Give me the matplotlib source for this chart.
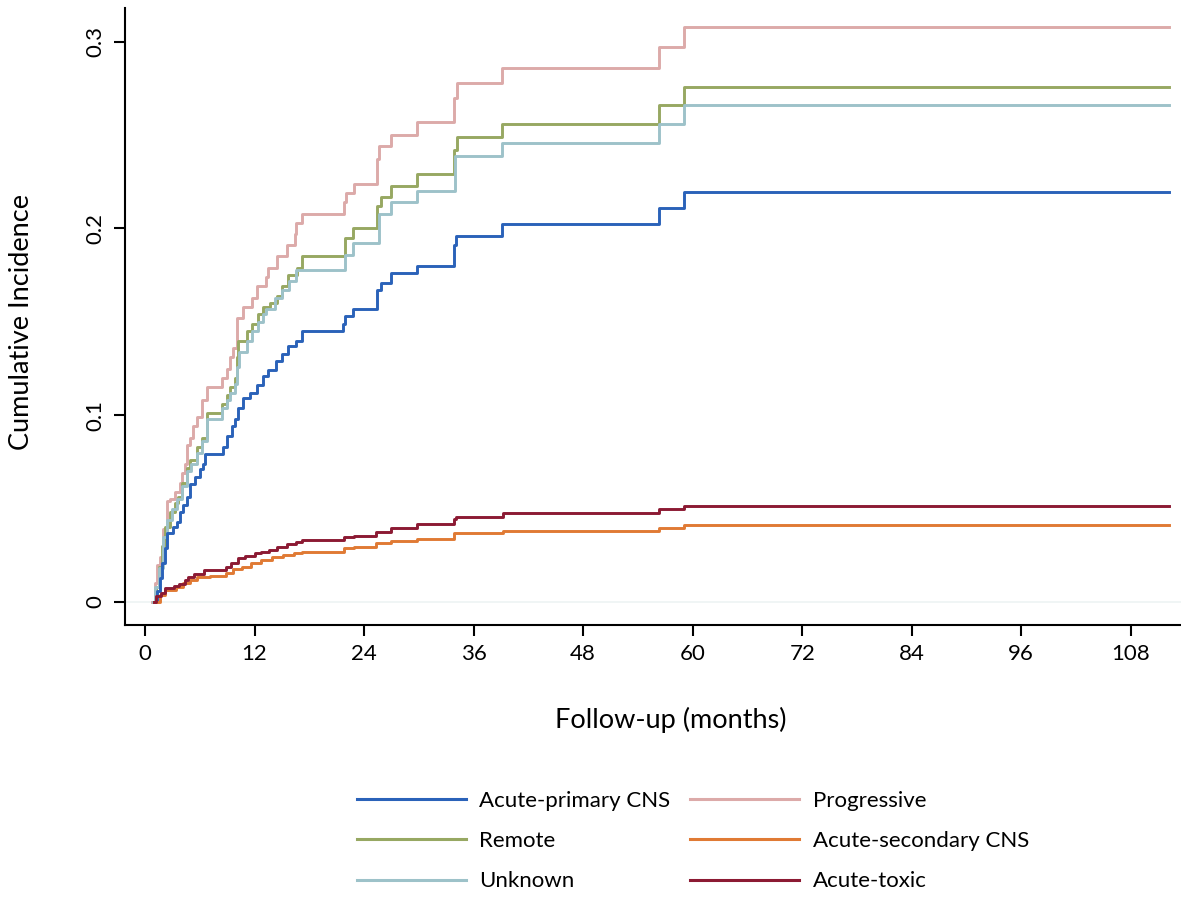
import numpy as np
import matplotlib
matplotlib.use("Agg")
from matplotlib import pyplot as plt

plt.rcParams['font.family'] = ['Lato', 'DejaVu Sans']

# --- dados (tempo de inicio de cada degrau, incidencia acumulada) ---
t_end = 112.2

primary_t = [1.0, 1.3, 1.6, 1.9, 2.2, 2.4, 3.1, 3.5, 3.8, 4.2, 4.6, 4.9, 5.5, 6.0, 6.4, 6.6,
             8.55, 9.0, 9.5, 9.9, 10.2, 10.75, 11.5, 12.3, 12.9, 13.5, 14.3, 15.0, 15.7, 16.5,
             17.2, 21.7, 21.9, 22.8, 25.4, 25.8, 26.9, 29.8, 33.8, 34.1, 39.1, 56.3, 59.0]
primary_y = [0.0, 0.006, 0.013, 0.021, 0.029, 0.037, 0.040, 0.043, 0.048, 0.052, 0.056, 0.063, 0.067, 0.071, 0.074, 0.079,
             0.083, 0.089, 0.094, 0.098, 0.104, 0.109, 0.112, 0.116, 0.121, 0.124, 0.129, 0.133, 0.137, 0.140,
             0.145, 0.149, 0.153, 0.157, 0.167, 0.171, 0.176, 0.180, 0.191, 0.196, 0.2025, 0.211, 0.2196]

progressive_t = [0.8, 1.1, 1.3, 1.6, 2.0, 2.4, 2.7, 3.3, 3.8, 4.1, 4.4, 4.6, 4.9, 5.3, 5.7, 6.25, 6.8,
                 8.45, 9.0, 9.3, 9.65, 10.1, 10.75, 11.7, 12.3, 13.2, 13.5, 14.5, 15.6, 16.4, 16.5,
                 17.2, 21.8, 22.0, 22.9, 25.4, 25.6, 26.9, 29.8, 33.8, 34.2, 39.1, 56.3, 59.0]
progressive_y = [0.0, 0.010, 0.020, 0.024, 0.039, 0.054, 0.055, 0.059, 0.064, 0.069, 0.074, 0.084, 0.088, 0.094, 0.099, 0.108, 0.115,
                 0.120, 0.125, 0.131, 0.136, 0.152, 0.158, 0.163, 0.169, 0.174, 0.179, 0.185, 0.191, 0.197, 0.203,
                 0.208, 0.214, 0.219, 0.224, 0.237, 0.244, 0.250, 0.257, 0.270, 0.278, 0.286, 0.297, 0.308]

remote_t = [0.9, 1.2, 1.5, 1.9, 2.2, 2.7, 3.3, 3.6, 4.1, 4.6, 4.9, 5.7, 6.25, 6.8,
            8.45, 9.0, 9.3, 9.9, 10.1, 10.2, 11.2, 11.7, 12.4, 12.9, 13.7, 14.5, 15.0, 15.7, 16.7,
            17.2, 21.9, 22.8, 25.4, 25.8, 26.9, 29.8, 33.8, 34.2, 39.1, 56.3, 59.0]
remote_y = [0.0, 0.008, 0.019, 0.030, 0.040, 0.048, 0.053, 0.056, 0.064, 0.072, 0.076, 0.083, 0.088, 0.101,
            0.106, 0.111, 0.115, 0.120, 0.131, 0.140, 0.145, 0.149, 0.154, 0.158, 0.160, 0.164, 0.169, 0.175, 0.179,
            0.185, 0.195, 0.200, 0.212, 0.217, 0.223, 0.229, 0.242, 0.249, 0.256, 0.266, 0.276]

unknown_t = [0.9, 1.1, 1.5, 2.0, 2.4, 3.0, 3.5, 4.1, 4.6, 5.0, 5.7, 6.2, 6.8,
             8.45, 9.0, 9.3, 9.9, 10.1, 10.3, 11.2, 11.7, 12.4, 12.9, 13.3, 14.2, 15.0, 15.8, 16.5,
             21.9, 22.8, 25.6, 26.9, 29.8, 34.0, 39.1, 56.3, 59.0]
unknown_y = [0.0, 0.008, 0.018, 0.035, 0.044, 0.050, 0.055, 0.062, 0.070, 0.074, 0.080, 0.086, 0.098,
             0.104, 0.108, 0.112, 0.117, 0.126, 0.134, 0.140, 0.145, 0.150, 0.154, 0.157, 0.163, 0.167, 0.172, 0.178,
             0.186, 0.192, 0.208, 0.214, 0.220, 0.239, 0.246, 0.256, 0.266]

secondary_t = [0.95, 1.6, 2.2, 3.4, 4.2, 4.9, 5.7, 7.1, 8.9, 9.65, 10.6, 11.6, 12.7, 13.9, 15.1, 16.3,
               17.2, 21.8, 22.9, 25.3, 26.9, 29.8, 33.9, 39.2, 56.3, 59.0]
secondary_y = [0.0, 0.004, 0.0064, 0.008, 0.010, 0.012, 0.0134, 0.014, 0.0155, 0.0177, 0.019, 0.0209, 0.0225, 0.024, 0.025, 0.0263,
               0.0268, 0.029, 0.0296, 0.0316, 0.0325, 0.0337, 0.037, 0.038, 0.0396, 0.0412]

toxic_t = [0.95, 1.2, 1.75, 2.2, 3.2, 3.7, 4.4, 4.7, 5.4, 6.5, 8.9, 9.4, 10.2, 11.0, 12.0, 12.7, 13.6, 14.5, 15.5, 16.5,
           17.2, 21.8, 22.9, 25.3, 26.9, 29.8, 33.9, 34.1, 39.2, 56.3, 59.0]
toxic_y = [0.0, 0.003, 0.005, 0.0075, 0.0086, 0.0096, 0.012, 0.0134, 0.015, 0.017, 0.019, 0.021, 0.0235, 0.0246, 0.026, 0.027, 0.028, 0.0296, 0.031, 0.032,
           0.033, 0.035, 0.0355, 0.0375, 0.0396, 0.042, 0.0445, 0.0455, 0.0476, 0.0498, 0.0515]

series = [
    ('Acute-primary CNS', primary_t, primary_y, '#2a62b9'),
    ('Remote', remote_t, remote_y, '#97a862'),
    ('Unknown', unknown_t, unknown_y, '#9dc2c9'),
    ('Progressive', progressive_t, progressive_y, '#dcaaa9'),
    ('Acute-secondary CNS', secondary_t, secondary_y, '#e07a34'),
    ('Acute-toxic', toxic_t, toxic_y, '#8c1a33'),
]
draw_order = ['Progressive', 'Remote', 'Unknown', 'Acute-primary CNS', 'Acute-secondary CNS', 'Acute-toxic']

x_ticks = [0, 12, 24, 36, 48, 60, 72, 84, 96, 108]
y_ticks = [0, 0.1, 0.2, 0.3]
y_tick_labels = ['0', '0.1', '0.2', '0.3']

fig = plt.figure(figsize=(11.81, 8.97), dpi=100)
ax = fig.add_axes([0.1058, 0.3032, 0.8942, 0.6878])

# linha de base bem clara em y=0
ax.axhline(0, color='#eef3f3', lw=1.2, zorder=0)

handles = {}
for name, t, y, color in series:
    tt = list(t) + [t_end]
    yy = list(y) + [y[-1]]
    line, = ax.step(tt, yy, where='post', color=color, lw=2.1,
                    zorder=3 + draw_order.index(name), label=name)
    handles[name] = line

ax.set_xlim(-2.2, 113.5)
ax.set_ylim(-0.0123, 0.318)
ax.set_xticks(x_ticks)
ax.set_yticks(y_ticks)
ax.set_yticklabels(y_tick_labels, rotation=90, va='center')
ax.tick_params(axis='both', length=8, width=1.5, labelsize=16, pad=6)
for s in ['top', 'right']:
    ax.spines[s].set_visible(False)
for s in ['left', 'bottom']:
    ax.spines[s].set_linewidth(1.5)

fig.text(671 / 1181, 1 - 720 / 897, 'Follow-up (months)', ha='center', va='center', fontsize=19.5)
fig.text(22 / 1181, 1 - 322 / 897, 'Cumulative Incidence', ha='center', va='center',
         rotation=90, fontsize=19.5)

# legenda em duas colunas (preenchida por coluna)
order = ['Acute-primary CNS', 'Remote', 'Unknown', 'Progressive', 'Acute-secondary CNS', 'Acute-toxic']
leg = fig.legend([handles[n] for n in order], order, ncol=2, frameon=False,
                 loc='upper left', bbox_to_anchor=(337 / 1181, 1 - 771 / 897),
                 fontsize=16, handlelength=4.9, handletextpad=0.6,
                 columnspacing=0.9, labelspacing=0.91)
for l in leg.get_lines():
    l.set_linewidth(2.2)

plt.savefig('out.png', dpi=100)
